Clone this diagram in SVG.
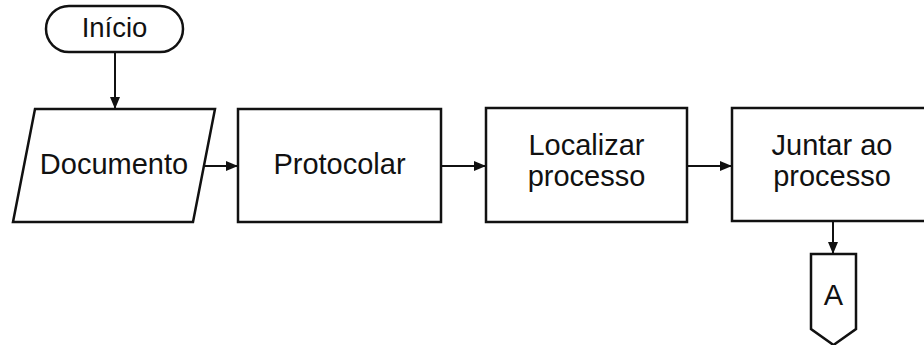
<svg xmlns="http://www.w3.org/2000/svg" width="924" height="345" viewBox="0 0 924 345">
  <style>
    .shape { fill: #fff; stroke: #111; stroke-width: 2.5; }
    .edge { fill: none; stroke: #111; stroke-width: 2; }
    .label { font-family: "Liberation Sans", Arial, sans-serif; font-size: 29px; fill: #111; text-anchor: middle; }
  </style>
  <defs>
    <marker id="arrow" viewBox="0 0 12 10" refX="12" refY="5" markerWidth="12" markerHeight="10" markerUnits="userSpaceOnUse" orient="auto">
      <path d="M0,0 L12,5 L0,10 Z" fill="#111"/>
    </marker>
  </defs>
  <rect width="924" height="345" fill="#fff"/>

  <g id="connectors">
    <line class="edge" x1="115" y1="52" x2="115" y2="109" marker-end="url(#arrow)"/>
    <line class="edge" x1="204" y1="166" x2="238" y2="166" marker-end="url(#arrow)"/>
    <line class="edge" x1="441" y1="166" x2="486" y2="166" marker-end="url(#arrow)"/>
    <line class="edge" x1="687" y1="166" x2="732" y2="166" marker-end="url(#arrow)"/>
    <line class="edge" x1="833" y1="221" x2="833" y2="254" marker-end="url(#arrow)"/>
  </g>

  <g id="inicio">
    <rect class="shape" x="46" y="6" width="137" height="46" rx="23" ry="23"/>
    <text class="label" x="114.5" y="37" style="font-size:27.5px">Início</text>
  </g>

  <g id="documento">
    <polygon class="shape" points="35,109 215,109 193,222 13,222"/>
    <text class="label" x="114" y="174">Documento</text>
  </g>

  <g id="protocolar">
    <rect class="shape" x="238" y="109" width="203" height="113"/>
    <text class="label" x="339.5" y="174">Protocolar</text>
  </g>

  <g id="localizar">
    <rect class="shape" x="486" y="108" width="201" height="114"/>
    <text class="label" x="586.5" y="155">Localizar</text>
    <text class="label" x="586.5" y="186">processo</text>
  </g>

  <g id="juntar">
    <rect class="shape" x="732" y="108" width="200" height="113"/>
    <text class="label" x="832" y="155">Juntar ao</text>
    <text class="label" x="832" y="186">processo</text>
  </g>

  <g id="conector-a">
    <polygon class="shape" points="811,254 856,254 856,329 833.5,345 811,329"/>
    <text class="label" x="833.5" y="305">A</text>
  </g>
</svg>
